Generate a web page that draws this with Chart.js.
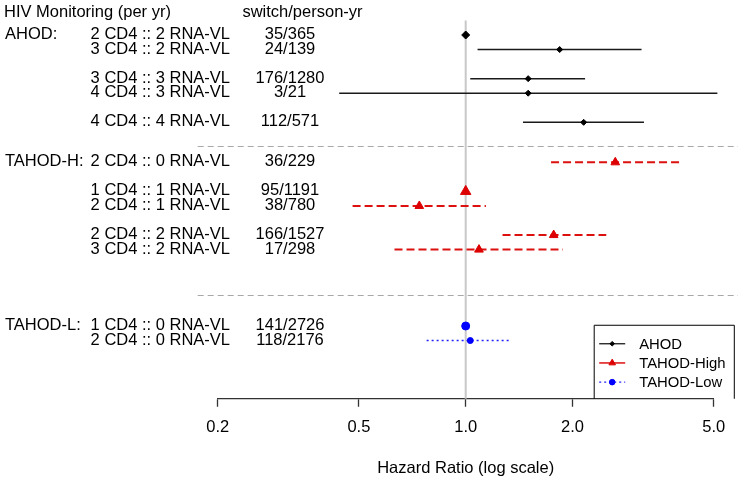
<!DOCTYPE html>
<html><head><meta charset="utf-8">
<script src="https://cdn.jsdelivr.net/npm/chart.js@4.4.1/dist/chart.umd.min.js"></script>
<style>html,body{margin:0;padding:0;background:#fff;} canvas{display:block;}</style>
</head><body>
<canvas id="c" width="738" height="481"></canvas>
<script>
// ---------------- data ----------------
const headerLabels = ['HIV Monitoring (per yr)', 'switch/person-yr'];
const groupNames = ['AHOD:', 'TAHOD-H:', 'TAHOD-L:'];
const seriesNames = ['AHOD', 'TAHOD-High', 'TAHOD-Low'];

const ahodLabels = ['2 CD4 :: 2 RNA-VL', '3 CD4 :: 2 RNA-VL', '3 CD4 :: 3 RNA-VL', '4 CD4 :: 3 RNA-VL', '4 CD4 :: 4 RNA-VL'];
const ahodCounts = ['35/365', '24/139', '176/1280', '3/21', '112/571'];
const ahodHR = [1.0, 1.84, 1.50, 1.50, 2.15];
const ahodLower = [null, 1.08, 1.03, 0.44, 1.45];
const ahodUpper = [null, 3.13, 2.17, 5.12, 3.18];
const ahodRows = [0, 1, 3, 4, 6];

const tahodHLabels = ['2 CD4 :: 0 RNA-VL', '1 CD4 :: 1 RNA-VL', '2 CD4 :: 1 RNA-VL', '2 CD4 :: 2 RNA-VL', '3 CD4 :: 2 RNA-VL'];
const tahodHCounts = ['36/229', '95/1191', '38/780', '166/1527', '17/298'];
const tahodHHR = [2.64, 1.0, 0.74, 1.77, 1.09];
const tahodHLower = [1.74, null, 0.48, 1.27, 0.63];
const tahodHUpper = [4.02, null, 1.14, 2.49, 1.88];
const tahodHRows = [8.75, 10.75, 11.75, 13.75, 14.75];

const tahodLLabels = ['1 CD4 :: 0 RNA-VL', '2 CD4 :: 0 RNA-VL'];
const tahodLCounts = ['141/2726', '118/2176'];
const tahodLHR = [1.0, 1.03];
const tahodLLower = [null, 0.776];
const tahodLUpper = [null, 1.345];
const tahodLRows = [20, 21];

const separatorRows = [7.6, 17.9];
const headerRow = -1.5;
const tickValues = [0.2, 0.5, 1, 2, 5];
const tickLabels = ['0.2', '0.5', '1.0', '2.0', '5.0'];

// ---------------- styles ----------------
const FONT = '"Liberation Sans", Arial, Helvetica, sans-serif';
const groups = [
  {name: groupNames[0], series: seriesNames[0], labels: ahodLabels, counts: ahodCounts, hr: ahodHR, lower: ahodLower, upper: ahodUpper, rows: ahodRows,
   color: '#000000', lineColor: '#1a1a1a', pointStyle: 'rectRot', bigR: 4, smallR: 3, legendR: 2.3, dash: [], lineWidth: 1.5, legendDash: []},
  {name: groupNames[1], series: seriesNames[1], labels: tahodHLabels, counts: tahodHCounts, hr: tahodHHR, lower: tahodHLower, upper: tahodHUpper, rows: tahodHRows,
   color: '#dd0000', lineColor: '#dd1010', pointStyle: 'triangle', bigR: 6, smallR: 5, legendR: 3.8, dash: [8, 4], lineWidth: 2, legendDash: []},
  {name: groupNames[2], series: seriesNames[2], labels: tahodLLabels, counts: tahodLCounts, hr: tahodLHR, lower: tahodLLower, upper: tahodLUpper, rows: tahodLRows,
   color: '#0000ff', lineColor: '#2020ff', pointStyle: 'circle', bigR: 4, smallR: 3, legendR: 2.8, dash: [2, 3], lineWidth: 1.5, legendDash: [2, 3]}
];

const datasets = [];
groups.forEach(g => {
  datasets.push({
    label: g.series,
    data: g.rows.map((r, i) => ({x: g.hr[i], y: r})),
    pointStyle: g.pointStyle,
    backgroundColor: g.color,
    borderColor: g.color,
    pointBorderWidth: 1,
    pointRadius: ctx => g.lower[ctx.dataIndex] == null ? g.bigR : g.smallR,
    pointHoverRadius: ctx => g.lower[ctx.dataIndex] == null ? g.bigR : g.smallR,
    showLine: false, order: 0, clip: false
  });
  g.rows.forEach((r, i) => {
    if (g.lower[i] == null) return;
    datasets.push({
      label: g.series + ' CI',
      data: [{x: g.lower[i], y: r}, {x: g.upper[i], y: r}],
      showLine: true, borderColor: g.lineColor, borderWidth: g.lineWidth, borderDash: g.dash,
      borderCapStyle: 'butt', pointRadius: 0, pointHoverRadius: 0, order: 1, clip: false
    });
  });
});

const forestPlugin = {
  id: 'forestText',
  beforeDatasetsDraw(chart) {
    const {ctx, chartArea: ca, scales: {x, y}} = chart;
    ctx.save();
    const x1 = x.getPixelForValue(1);
    ctx.strokeStyle = '#c8c8c8'; ctx.lineWidth = 2;
    ctx.beginPath(); ctx.moveTo(x1, ca.top); ctx.lineTo(x1, ca.bottom); ctx.stroke();
    ctx.strokeStyle = '#a8a8a8'; ctx.lineWidth = 1; ctx.setLineDash([6, 4]);
    separatorRows.forEach(s => {
      const py = Math.round(y.getPixelForValue(s)) + 0.5;
      ctx.beginPath(); ctx.moveTo(ca.left - 20, py); ctx.lineTo(chart.width, py); ctx.stroke();
    });
    ctx.restore();
  },
  afterDraw(chart) {
    const {ctx, chartArea: ca, scales: {y}} = chart;
    ctx.save();
    ctx.fillStyle = '#000';
    ctx.font = '16.5px ' + FONT;
    ctx.textBaseline = 'alphabetic';
    const hy = y.getPixelForValue(headerRow) + 4;
    ctx.textAlign = 'left'; ctx.fillText(headerLabels[0], 4, hy);
    ctx.textAlign = 'center'; ctx.fillText(headerLabels[1], 302.5, hy);
    groups.forEach(g => {
      g.rows.forEach((r, i) => {
        const py = y.getPixelForValue(r) + 4;
        if (i === 0) { ctx.textAlign = 'left'; ctx.fillText(g.name, 5, py); }
        ctx.textAlign = 'right'; ctx.fillText(g.labels[i], 230, py);
        ctx.textAlign = 'center'; ctx.fillText(g.counts[i], 290, py);
      });
    });
    // legend
    const lx = ca.right - 119.5, rx = ca.right + 20.6, ty = ca.bottom - 73.5, by = ca.bottom;
    ctx.strokeStyle = '#000'; ctx.lineWidth = 1; ctx.setLineDash([]);
    ctx.beginPath();
    ctx.moveTo(lx, by); ctx.lineTo(lx, ty); ctx.lineTo(rx, ty); ctx.lineTo(rx, by);
    ctx.stroke();
    ctx.font = '14.85px ' + FONT;
    ctx.textAlign = 'left';
    groups.forEach((g, k) => {
      const cy = ty + 18.5 + k * 19.2;
      ctx.strokeStyle = g.lineColor; ctx.lineWidth = g === groups[1] ? 1.5 : 1.3;
      ctx.setLineDash(g.legendDash);
      ctx.beginPath(); ctx.moveTo(lx + 5, cy); ctx.lineTo(lx + 31, cy); ctx.stroke();
      ctx.setLineDash([]);
      ctx.fillStyle = g.color; ctx.strokeStyle = g.color; ctx.lineWidth = 1;
      Chart.helpers.drawPoint(ctx, {pointStyle: g.pointStyle, radius: g.legendR, borderWidth: 1, rotation: 0}, lx + 18, cy);
      ctx.fillStyle = '#000';
      ctx.fillText(g.series, lx + 45, cy + 5.2);
    });
    ctx.restore();
  }
};

new Chart(document.getElementById('c'), {
  type: 'scatter',
  data: {datasets},
  options: {
    responsive: false, animation: false, devicePixelRatio: 1, events: [],
    layout: {padding: {left: 217.7, right: 24.3, top: 20.45, bottom: 0}},
    plugins: {legend: {display: false}, tooltip: {enabled: false}},
    scales: {
      x: {
        type: 'logarithmic', position: 'bottom', min: 0.2, max: 5,
        afterBuildTicks: s => { s.ticks = tickValues.map(v => ({value: v})); },
        afterFit: s => { s.height = 82.25; s.paddingLeft = 0; s.paddingRight = 0; },
        ticks: {
          autoSkip: false, maxRotation: 0, padding: 11, color: '#000',
          font: {family: FONT, size: 16.5},
          callback: v => tickLabels[tickValues.indexOf(v)]
        },
        grid: {display: true, drawOnChartArea: false, drawTicks: true, tickLength: 8, tickColor: '#333', tickWidth: 1.3},
        border: {display: true, color: '#333', width: 1.3},
        title: {display: true, text: 'Hazard Ratio (log scale)', color: '#000', font: {family: FONT, size: 16.5}, padding: {top: 0, bottom: 3}}
      },
      y: {type: 'linear', reverse: true, min: -1, max: 25, display: false}
    }
  },
  plugins: [forestPlugin]
});
</script>
</body></html>
